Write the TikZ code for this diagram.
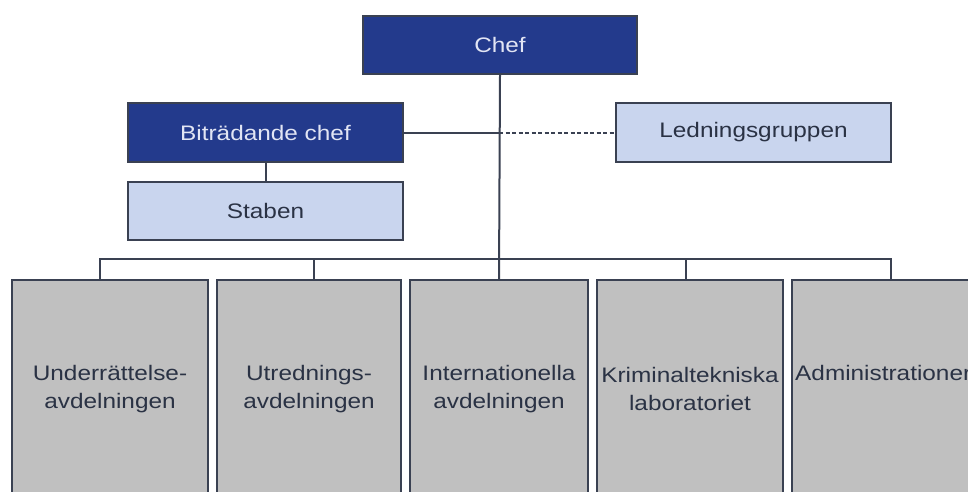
\documentclass[tikz,border=0pt]{standalone}
\usepackage{fontspec}
\setmainfont{Liberation Sans}[FakeStretch=1.16]
\definecolor{dblue}{HTML}{233A8C}
\definecolor{lblue}{HTML}{C9D5EE}
\definecolor{gbox}{HTML}{C0C0C0}
\definecolor{lcol}{HTML}{3A4152}
\definecolor{wtxt}{HTML}{E2E5F4}
\definecolor{dtxt}{HTML}{2A3244}
\begin{document}
\begin{tikzpicture}[x=1pt,y=-1pt,
  box/.style={draw=lcol,line width=2pt,rectangle,inner sep=0pt,font=\fontsize{21}{28}\selectfont,align=center},
  darkbox/.style={box,fill=dblue,text=wtxt},
  lightbox/.style={box,fill=lblue,text=dtxt},
  deptbox/.style={box,fill=gbox,text=dtxt},
  depttext/.style={text=dtxt,font=\fontsize{21}{28}\selectfont,align=center,inner sep=0pt},
  conn/.style={draw=lcol,line width=2pt}]
\useasboundingbox (0,0) rectangle (968,491);
\clip (0,0) rectangle (968,491);
\node[darkbox,minimum width=274pt,minimum height=58pt] (chef) at (500,45) {Chef};
\node[darkbox,minimum width=275pt,minimum height=59pt] (bit) at (265.5,132.5) {Biträdande chef};
\node[lightbox,minimum width=275pt,minimum height=58pt] (stab) at (265.5,211) {Staben};
\node[lightbox,minimum width=275pt,minimum height=59pt] (led) at (753.5,132.5) {Ledningsgruppen};
% departments: tops at 279, extend below
\node[deptbox,minimum width=196pt,minimum height=260pt,anchor=north] (d1) at (110,279) {};
\node[deptbox,minimum width=184pt,minimum height=260pt,anchor=north] (d2) at (309,279) {};
\node[deptbox,minimum width=178pt,minimum height=260pt,anchor=north] (d3) at (499,279) {};
\node[deptbox,minimum width=186pt,minimum height=260pt,anchor=north] (d4) at (690,279) {};
\node[deptbox,minimum width=198pt,minimum height=260pt,anchor=north] (d5) at (891,279) {};
\node[depttext] (t1) at (110,389) {Underrättelse-\\avdelningen};
\node[depttext] (t2) at (309,389) {Utrednings-\\avdelningen};
\node[depttext] (t3) at (499,389) {Internationella\\avdelningen};
\node[depttext] (t4) at (690,389) {Kriminaltekniska\\laboratoriet};
\node[depttext,anchor=base west] (t5) at (795,380) {Administrationer};
% connectors
\coordinate (j) at (499,132.5);
\coordinate (b1) at (100,259);
\coordinate (b2) at (314,259);
\coordinate (b4) at (686,259);
\coordinate (b5) at (891,259);
\draw[conn] (chef.south) -- (d3.north);
\draw[conn] (bit.east) -- (j);
\draw[conn,dash pattern=on 4pt off 2.5pt] (j) -- (led.west);
\draw[conn] (bit.south) -- (stab.north);
\draw[conn] (d1.north -| b1) -- (b1) -- (b5) -- (d5.north -| b5);
\draw[conn] (b2) -- (d2.north -| b2);
\draw[conn] (b4) -- (d4.north -| b4);
\end{tikzpicture}
\end{document}
